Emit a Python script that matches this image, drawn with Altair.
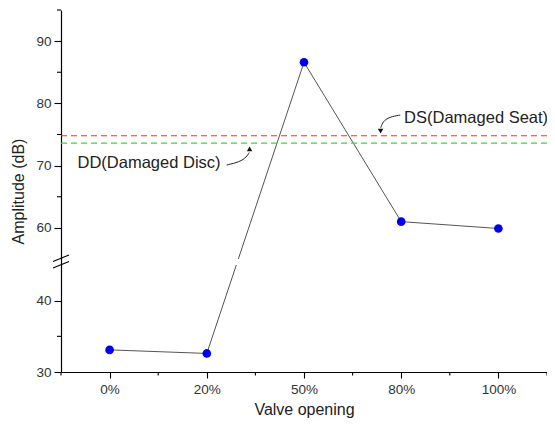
import altair as alt
import pandas as pd

# ---- data ----
categories = ["0%", "20%", "50%", "80%", "100%"]
amplitude = [33.1, 32.6, 86.6, 61.0, 59.9]
ds_level = 74.8   # DS (Damaged Seat) threshold
dd_level = 73.6   # DD (Damaged Disc) threshold

y_major = [30, 40, 60, 70, 80, 90]
y_minor = [35, 65, 75, 85, 95]
x_major = [0, 1, 2, 3, 4]
x_minor = [-0.5, 0.5, 1.5, 2.5, 3.5, 4.5]

# annotation text anchors (x in category index units, y in dB)
ann_text = ["DS(Damaged Seat)", "DD(Damaged Disc)"]
ann_x = [3.03, -0.33]
ann_y = [77.7, 70.4]

# curved annotation arrows (x in category index units, y in dB)
ds_arrow_x = [2.991, 2.878, 2.812, 2.790]
ds_arrow_y = [78.13, 77.81, 77.10, 76.10]
dd_arrow_x = [1.204, 1.338, 1.410, 1.436]
dd_arrow_y = [70.10, 70.58, 71.39, 72.10]
heads_x = [2.788, 1.440]
heads_y = [75.55, 72.70]
heads_shape = ["triangle-down", "triangle-up"]

FONT = "Liberation Sans"
W, H = 486, 362

# broken y axis: lower segment 30-45 and upper segment 55-95 with a small gap
LOW = (30, 45)
UPP = (55, 95)
LOW_LEN, GAP_LEN = 107.0, 6.0
UPP_LEN = H - LOW_LEN - GAP_LEN
k_low = LOW_LEN / (LOW[1] - LOW[0])
k_upp = UPP_LEN / (UPP[1] - UPP[0])
off_upp = LOW_LEN + GAP_LEN


def seg(v):
    return (v - LOW[0]) * k_low if v <= 50 else off_upp + (v - UPP[0]) * k_upp


def seg_expr(f):
    return ("datum.%s <= 50 ? (datum.%s - %g) * %r : %r + (datum.%s - %g) * %r"
            % (f, f, LOW[0], k_low, off_upp, f, UPP[0], k_upp))


label_back = ("round(datum.value <= %r ? %g + datum.value / %r : %g + (datum.value - %r) / %r)"
              % (LOW_LEN + 1, LOW[0], k_low, UPP[0], off_upp, k_upp))

df = pd.DataFrame({"idx": list(range(len(categories))), "cat": categories, "amp": amplitude})
label_js = "[" + ",".join("'" + c + "'" for c in categories) + "]"

xscale = alt.Scale(domain=[-0.5, 4.5], nice=False, zero=False)
yscale = alt.Scale(domain=[0, H], nice=False, zero=False)

x_axis = alt.Axis(
    values=x_major,
    labelExpr=label_js + "[datum.value]",
    tickSize=6,
    grid=False, domainColor="#000", tickColor="#000", domainWidth=1.2, tickWidth=1.1,
    labelFont=FONT, labelFontSize=13.5, labelColor="#333", labelPadding=4,
    title="Valve opening", titleFont=FONT, titleFontSize=16, titleFontWeight="normal",
    titleColor="#222", titlePadding=6,
)
y_axis = alt.Axis(
    values=[seg(v) for v in y_major],
    labelExpr=label_back,
    tickSize=7,
    grid=False, domainColor="#000", tickColor="#000", domainWidth=1.2, tickWidth=1.1,
    labelFont=FONT, labelFontSize=13.5, labelColor="#333", labelPadding=3,
    title="Amplitude (dB)", titleFont=FONT, titleFontSize=16, titleFontWeight="normal",
    titleColor="#222", titlePadding=9,
)


def X(f):
    return alt.X(f + ":Q", scale=xscale, axis=x_axis)


def Y(f="yp"):
    return alt.Y(f + ":Q", scale=yscale, axis=y_axis)


line = alt.Chart(df).transform_calculate(yp=seg_expr("amp")).mark_line(
    color="#555", strokeWidth=1
).encode(x=X("idx"), y=Y())

points = alt.Chart(df).transform_calculate(yp=seg_expr("amp")).mark_circle(
    color="#0000f0", size=75, opacity=1
).encode(x=X("idx"), y=Y())

# white mask that opens the gap in the data line at the axis break
gap = alt.Chart(pd.DataFrame({"a": [LOW[1]], "b": [UPP[0]], "l": [-0.45], "r": [4.5]})).transform_calculate(
    ya=seg_expr("a"), yb=seg_expr("b")
).mark_rect(color="white").encode(
    x=X("l"), x2="r:Q", y=Y("ya"), y2="yb:Q",
)

ds_rule = alt.Chart(pd.DataFrame({"v": [ds_level]})).transform_calculate(yp=seg_expr("v")).mark_rule(
    color="#ff2a2a", strokeDash=[6, 4], strokeWidth=1.2
).encode(y=Y())
dd_rule = alt.Chart(pd.DataFrame({"v": [dd_level]})).transform_calculate(yp=seg_expr("v")).mark_rule(
    color="#2ee02e", strokeDash=[6, 4], strokeWidth=1.2
).encode(y=Y())

texts = alt.Chart(pd.DataFrame({"t": ann_text, "x": ann_x, "y": ann_y})).transform_calculate(
    yp=seg_expr("y")
).mark_text(
    align="left", baseline="middle", font=FONT, fontSize=16.5, color="#222"
).encode(x=X("x"), y=Y(), text="t:N")

arrow_df = pd.DataFrame({
    "x": ds_arrow_x + dd_arrow_x,
    "y": ds_arrow_y + dd_arrow_y,
    "k": list(range(4)) * 2,
    "g": ["ds"] * 4 + ["dd"] * 4,
})
arrows = alt.Chart(arrow_df).transform_calculate(yp=seg_expr("y")).mark_line(
    interpolate="basis", color="#222", strokeWidth=1
).encode(x=X("x"), y=Y(), detail="g:N", order="k:Q")

heads = alt.Chart(pd.DataFrame({"x": heads_x, "y": heads_y, "s": heads_shape})).transform_calculate(
    yp=seg_expr("y")
).mark_point(filled=True, color="#111", size=30, opacity=1).encode(
    x=X("x"), y=Y(), shape=alt.Shape("s:N", scale=None),
)

# minor ticks (shorter than the labelled ones)
x_minor_ticks = alt.Chart(pd.DataFrame({"m": x_minor})).mark_rule(color="#000", strokeWidth=1.1).encode(
    x=X("m"), y=alt.value(H), y2=alt.value(H + 3.5)
)
y_minor_ticks = alt.Chart(pd.DataFrame({"m": y_minor})).transform_calculate(yp=seg_expr("m")).mark_rule(
    color="#000", strokeWidth=1.1
).encode(y=Y(), x=alt.value(0), x2=alt.value(-4))

# axis-break slashes
slash1 = alt.Chart(pd.DataFrame({"a": [0]})).mark_rule(color="#000", strokeWidth=1.2).encode(
    x=alt.value(-8), x2=alt.value(8), y=alt.value(251.5), y2=alt.value(245)
)
slash2 = alt.Chart(pd.DataFrame({"a": [0]})).mark_rule(color="#000", strokeWidth=1.2).encode(
    x=alt.value(-8), x2=alt.value(8), y=alt.value(258), y2=alt.value(251.5)
)

chart = alt.layer(
    line, gap, ds_rule, dd_rule, points, arrows, heads, texts,
    x_minor_ticks, y_minor_ticks, slash1, slash2
).properties(
    width=W, height=H,
    autosize=alt.AutoSizeParams(type="none"),
    padding={"left": 53, "top": 2, "right": 0, "bottom": 48},
    background="white",
).configure_view(stroke=None)

chart.save("out.html", embed_options={"renderer": "svg", "actions": False})
